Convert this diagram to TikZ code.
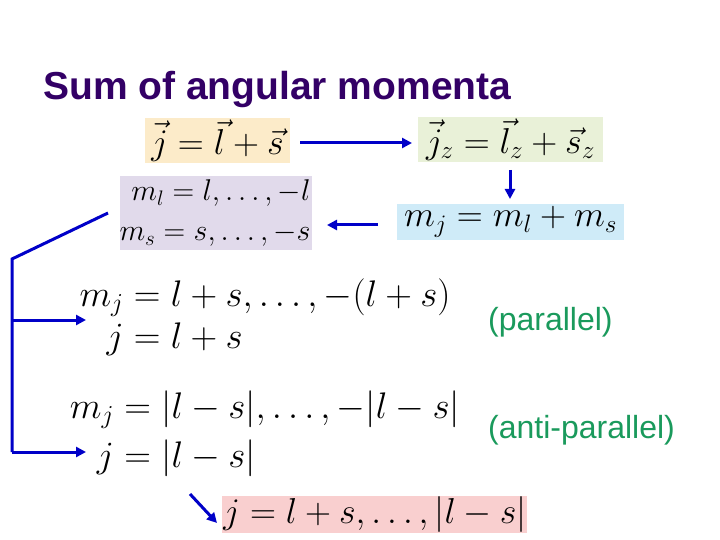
\RequirePackage{fix-cm}
\documentclass[tikz,border=0pt]{standalone}
\usepackage{amsmath}
\usepackage{fontspec}
\newfontfamily\arialfont{Liberation Sans}
\usetikzlibrary{arrows.meta}
\definecolor{titlepurple}{HTML}{330066}
\definecolor{labgreen}{HTML}{1A9A5C}
\definecolor{arrblue}{HTML}{0000C8}
\definecolor{boxorange}{HTML}{FCEBC9}
\definecolor{boxgreen}{HTML}{E9F1D8}
\definecolor{boxpurple}{HTML}{E1DAEB}
\definecolor{boxblue}{HTML}{CFEBF8}
\definecolor{boxpink}{HTML}{F9CFCF}
\tikzset{
  eqbox/.style={inner sep=0pt, font=\fontsize{36}{36}\selectfont},
  bigeq/.style={inner sep=0pt, font=\fontsize{37}{37}\selectfont},
  arr/.style={draw=arrblue, line width=3pt, -{Triangle[length=10pt,width=10pt]}},
  plainline/.style={draw=arrblue, line width=3pt},
  greenlab/.style={anchor=base west, inner sep=0pt, text=labgreen, font=\arialfont\fontsize{32}{32}\selectfont},
}
\begin{document}
\begin{tikzpicture}[x=1pt,y=-1pt]
\useasboundingbox (0,0) rectangle (720,540);
% title
\node[anchor=base west, inner sep=0pt, text=titlepurple, font=\arialfont\bfseries\fontsize{39}{40}\selectfont] (title) at (43,100) {Sum of angular momenta};
% boxes
\fill[boxorange] (145,118) rectangle (290,163);
\node[eqbox] (b1) at (217.5,140.5) {$\vec j = \vec l + \vec s$};
\fill[boxgreen] (418,117) rectangle (603,162);
\node[eqbox] (b2) at (510.5,139.5) {$\vec j_z = \vec l_z + \vec s_z$};
\fill[boxpurple] (120,176) rectangle (312,250);
\node[inner sep=0pt, align=right, font=\fontsize{30}{40}\selectfont] (b3) at (215,213) {$m_l = l,\ldots,-l$\\$m_s = s,\ldots,-s$};
\fill[boxblue] (397,204) rectangle (624,240);
\node[eqbox] (b4) at (510.5,222) {$m_j = m_l + m_s$};
\fill[boxpink] (222,496) rectangle (527,533);
\node[eqbox] (b5) at (375,514.5) {$j = l + s,\ldots,|l - s|$};
% equations
\node[bigeq] (e1) at (265,319) {\setlength{\jot}{5pt}$\begin{aligned} m_j &= l + s,\ldots,-(l+s)\\ j &= l + s\end{aligned}$};
\node[bigeq] (e2) at (265,434.5) {\setlength{\jot}{9pt}$\begin{aligned} m_j &= |l - s|,\ldots,-|l - s|\\ j &= |l - s|\end{aligned}$};
% labels
\node[greenlab] (p1) at (488,330) {(parallel)};
\node[greenlab] (p2) at (488,438) {(anti-parallel)};
% arrows
\coordinate (a1s) at (300,143);
\coordinate (a1e) at (412,143);
\coordinate (a2s) at (510,170);
\coordinate (a2e) at (510,199);
\coordinate (a3s) at (378,225);
\coordinate (a3e) at (327,225);
\coordinate (c0) at (108,213);
\coordinate (c1) at (12,259);
\coordinate (cm) at (12,320);
\coordinate (c2) at (12,452);
\coordinate (t1) at (86,320);
\coordinate (t2) at (86,452);
\coordinate (c5) at (190,494);
\coordinate (t5) at (217,523);
\draw[arr] (a1s) -- (a1e);
\draw[plainline, line join=miter] (c0) -- (c1) -- (c2);
\draw[arr] (cm) -- (t1);
\draw[arr] (c2) -- (t2);
\draw[arr] (a2s) -- (a2e);
\draw[arr] (a3s) -- (a3e);
\draw[arr] (c5) -- (t5);
\end{tikzpicture}
\end{document}
